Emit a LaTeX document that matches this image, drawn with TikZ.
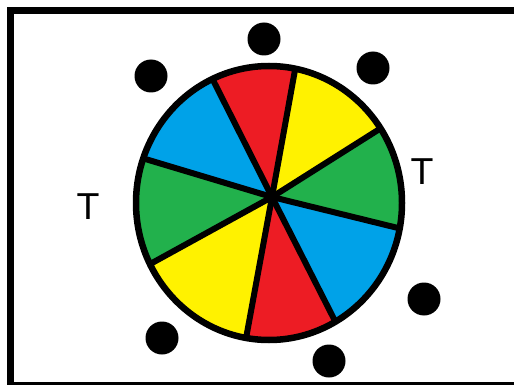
\documentclass[tikz,border=0pt]{standalone}
\usepackage{fontspec}
\setmainfont{Liberation Sans}
\usetikzlibrary{calc}
\definecolor{wheelred}{HTML}{ED1C24}
\definecolor{wheelyellow}{HTML}{FFF200}
\definecolor{wheelgreen}{HTML}{22B14C}
\definecolor{wheelblue}{HTML}{00A2E8}

\begin{document}
\begin{tikzpicture}[x=1pt, y=-1pt,
    dot/.style={circle, fill=black, inner sep=0pt, minimum size=33pt},
    letter/.style={font=\fontsize{37.5}{40}\selectfont, inner sep=0pt},
    spoke/.style={line width=6pt, line cap=round, shorten >=-14pt}]
    \useasboundingbox (0, 0) rectangle (514, 385);
    \draw[line width=7pt] (10, 11) rectangle (530, 385.5);

    \coordinate (hub) at (272, 197);
    \coordinate (s1) at (213, 80);
    \coordinate (s2) at (295, 70);
    \coordinate (s3) at (378, 130);
    \coordinate (s4) at (398, 228);
    \coordinate (s5) at (333, 317);
    \coordinate (s6) at (247, 333);
    \coordinate (s7) at (152, 263);
    \coordinate (s8) at (142, 158);

    \begin{scope}
        \clip (269, 203) ellipse [x radius=133pt, y radius=137pt];
        \foreach \i/\j/\c in {1/2/wheelred, 2/3/wheelyellow, 3/4/wheelgreen, 4/5/wheelblue,
                              5/6/wheelred, 6/7/wheelyellow, 7/8/wheelgreen, 8/1/wheelblue}
            \fill[\c] (hub) -- ($(hub)!2!(s\i)$) -- ($(hub)!2!(s\j)$) -- cycle;
        \foreach \i in {1,...,8}
            \draw[spoke] (hub) -- (s\i);
    \end{scope}
    \draw[line width=6.5pt] (269, 203) ellipse [x radius=133pt, y radius=137pt];

    \node[dot] (d1) at (264, 39) {};
    \node[dot] (d2) at (151, 76) {};
    \node[dot] (d3) at (373, 68) {};
    \node[dot] (d4) at (424, 299) {};
    \node[dot] (d5) at (162, 338) {};
    \node[dot] (d6) at (329, 361) {};

    \node[letter] (tleft) at (88, 207) {T};
    \node[letter] (tright) at (422, 172) {T};
\end{tikzpicture}
\end{document}
